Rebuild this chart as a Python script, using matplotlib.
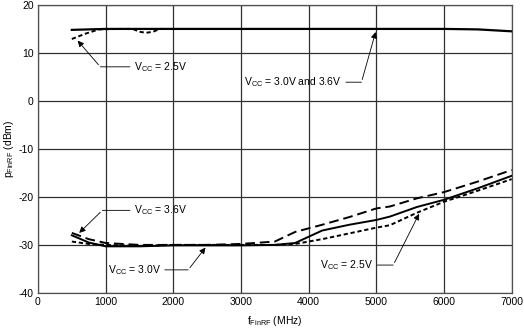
import numpy as np
import matplotlib
import matplotlib.pyplot as plt

matplotlib.use('Agg')

plt.rcParams['font.family'] = ['Liberation Sans', 'DejaVu Sans']
plt.rcParams['mathtext.fontset'] = 'custom'
plt.rcParams['mathtext.rm'] = 'Liberation Sans'
plt.rcParams['mathtext.it'] = 'Liberation Sans'
plt.rcParams['axes.unicode_minus'] = False

# upper curves (output power, high level)
top_freq = [500, 1000, 2000, 3000, 4000, 5000, 6000, 6500, 7000]
top_30_36 = [14.8, 15.0, 15.0, 15.0, 15.0, 15.0, 15.0, 14.9, 14.5]
top25_freq = [500, 700, 900, 1200, 1400, 1500, 1600, 1700, 1800, 2000]
top_25 = [12.9, 14.0, 14.9, 15.0, 15.0, 14.4, 14.2, 14.4, 15.0, 15.0]

# lower curves
low_freq = [500, 750, 1000, 1500, 2000, 2500, 3000, 3500, 3800, 4200, 4600,
            5000, 5200, 5600, 6000, 6500, 7000]
low_36 = [-27.5, -28.8, -29.6, -30.0, -30.0, -30.0, -29.8, -29.3, -27.3, -25.8,
          -24.2, -22.4, -22.0, -20.3, -19.0, -16.8, -14.4]
low_30 = [-28.0, -29.5, -30.3, -30.3, -30.1, -30.1, -30.1, -30.0, -29.6, -27.0,
          -25.8, -24.8, -24.1, -22.1, -20.6, -18.2, -15.6]
low_25 = [-29.3, -29.8, -30.0, -30.2, -30.0, -30.0, -30.0, -30.0, -29.8, -28.8,
          -27.6, -26.4, -25.9, -23.3, -21.0, -18.7, -16.3]

fig = plt.figure(figsize=(5.24, 3.28), dpi=100)
ax = fig.add_axes([0.0725, 0.107, 0.904, 0.878])

ax.plot(top_freq, top_30_36, color='black', lw=1.6)
ax.plot(top25_freq, top_25, color='black', lw=1.4, dashes=(2.2, 1.4))
ax.plot(low_freq, low_36, color='black', lw=1.4, dashes=(5, 2.5))
ax.plot(low_freq, low_30, color='black', lw=1.4)
ax.plot(low_freq, low_25, color='black', lw=1.4, dashes=(2.2, 1.4))

ax.set_xlim(0, 7000)
ax.set_ylim(-40, 20)
ax.set_xticks(np.arange(0, 7001, 1000))
ax.set_yticks(np.arange(-40, 21, 10))
ax.grid(True, color='#303030', lw=0.9)
for s in ax.spines.values():
    s.set_color('#505050')
    s.set_linewidth(0.9)
ax.tick_params(length=0, labelsize=7.5, pad=3)

ax.set_xlabel('f$_{\\mathrm{FinRF}}$ (MHz)', fontsize=7.5, labelpad=5)
ax.set_ylabel('p$_{\\mathrm{FinRF}}$ (dBm)', fontsize=7.5, labelpad=2)

arr = dict(arrowstyle='-|>', color='black', lw=0.6, mutation_scale=9)
txt = dict(fontsize=7.5, va='center')

def note(label, text_xy, knee_xy, target_xy, ha='left'):
    ax.annotate(label, xy=knee_xy, xytext=text_xy, ha=ha,
                arrowprops=dict(arrowstyle='-', color='black', lw=0.6,
                                shrinkA=1, shrinkB=0), **txt)
    ax.annotate('', xy=target_xy, xytext=knee_xy, arrowprops=arr)

note('V$_{\\mathrm{CC}}$ = 2.5V', (1420, 7.1), (920, 7.1), (560, 13.0))
note('V$_{\\mathrm{CC}}$ = 3.0V and 3.6V', (3050, 3.9), (4780, 3.9),
     (5000, 14.9))
note('V$_{\\mathrm{CC}}$ = 3.6V', (1420, -22.8), (950, -22.8), (580, -27.9))
note('V$_{\\mathrm{CC}}$ = 3.0V', (1030, -35.2), (2220, -35.2), (2500, -30.1))
note('V$_{\\mathrm{CC}}$ = 2.5V', (4170, -34.2), (5250, -34.2), (5650, -23.0))

fig.savefig('out.png', dpi=100)
